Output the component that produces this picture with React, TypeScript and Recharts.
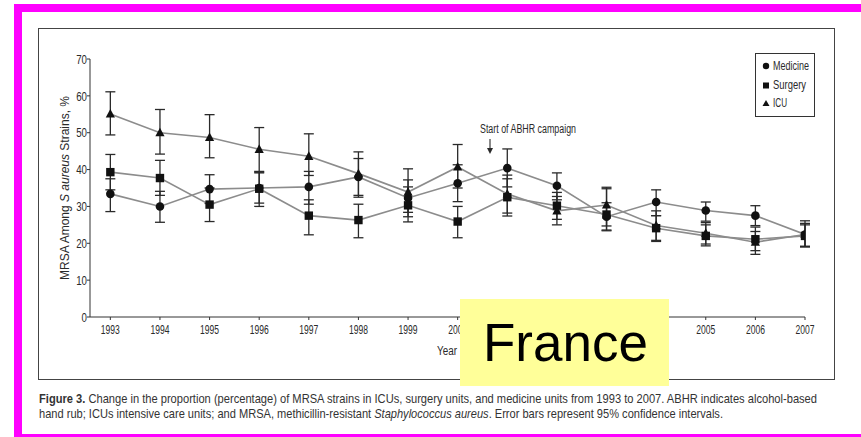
import React from 'react';
import { ComposedChart, Line, XAxis, YAxis, ErrorBar } from 'recharts';

// years on the x axis
const years = [1993, 1994, 1995, 1996, 1997, 1998, 1999, 2000, 2001, 2002, 2003, 2004, 2005, 2006, 2007];
const yTicks = [0, 10, 20, 30, 40, 50, 60, 70];

// MRSA %, with 95% CI bounds
const medicine = [33.4, 30.0, 34.7, 35.0, 35.3, 38.0, 32.3, 36.3, 40.4, 35.6, 27.2, 31.2, 28.9, 27.5, 22.4];
const medicineLow = [28.6, 25.7, 30.8, 30.9, 30.6, 32.5, 27.2, 31.3, 35.3, 31.8, 23.4, 27.5, 26.0, 24.8, 19.1];
const medicineHigh = [37.5, 34.1, 38.6, 39.1, 39.5, 43.0, 37.2, 41.3, 45.6, 39.1, 31.0, 34.5, 31.2, 30.2, 25.4];

const surgery = [39.3, 37.7, 30.5, 34.8, 27.5, 26.3, 30.3, 25.9, 32.5, 30.2, 27.8, 24.1, 22.0, 21.1, 22.0];
const surgeryLow = [34.5, 33.0, 25.9, 30.0, 22.3, 21.5, 25.8, 21.5, 27.4, 26.5, 23.6, 20.5, 19.3, 18.0, 19.0];
const surgeryHigh = [44.1, 42.5, 35.0, 39.3, 31.8, 30.6, 35.3, 30.0, 37.5, 33.8, 34.8, 27.5, 25.0, 24.4, 25.0];

const icu = [55.1, 50.0, 48.7, 45.5, 43.6, 38.9, 33.9, 40.7, 33.4, 28.8, 30.4, 24.8, 22.7, 20.3, 22.4];
const icuLow = [49.4, 44.2, 43.2, 39.5, 38.4, 33.0, 28.4, 35.0, 28.2, 25.0, 24.7, 20.8, 19.8, 17.0, 19.2];
const icuHigh = [61.1, 56.3, 54.9, 51.4, 49.7, 44.8, 40.2, 46.8, 38.5, 32.7, 35.2, 28.8, 25.6, 23.2, 26.1];

const data = years.map((year, i) => ({
  year,
  medicine: medicine[i],
  medicineErr: [medicine[i] - medicineLow[i], medicineHigh[i] - medicine[i]],
  surgery: surgery[i],
  surgeryErr: [surgery[i] - surgeryLow[i], surgeryHigh[i] - surgery[i]],
  icu: icu[i],
  icuErr: [icu[i] - icuLow[i], icuHigh[i] - icu[i]],
}));

// no narrow font installed, so text is squeezed with textLength
const FONT = "'Liberation Sans', Arial, sans-serif";
const INK = '#2a2a2a';
const LINE = '#8c8c8c';

const circleDot = (p: any) => <circle key={p.key} cx={p.cx} cy={p.cy} r={4.3} fill="#111" />;
const squareDot = (p: any) => <rect key={p.key} x={p.cx - 4.2} y={p.cy - 4.2} width={8.4} height={8.4} fill="#111" />;
const triDot = (p: any) => (
  <polygon key={p.key} points={`${p.cx},${p.cy - 5} ${p.cx - 4.6},${p.cy + 3.6} ${p.cx + 4.6},${p.cy + 3.6}`} fill="#111" />
);

const XTick = (p: any) => (
  <text x={p.x} y={p.y} dy="0.71em" textAnchor="middle" fontSize={13} fill={INK} fontFamily={FONT}
    textLength={19} lengthAdjust="spacingAndGlyphs">
    {p.payload.value}
  </text>
);

const YTick = (p: any) => {
  const s = String(p.payload.value);
  return (
    <text x={p.x} y={p.y} dy="0.36em" textAnchor="end" fontSize={13} fill={INK} fontFamily={FONT}
      textLength={s.length * 5.4} lengthAdjust="spacingAndGlyphs">
      {s}
    </text>
  );
};

const YLabel = () => (
  <text transform="translate(69,188) rotate(-90)" textAnchor="middle" fontSize={13} fill={INK} fontFamily={FONT}
    textLength={184} lengthAdjust="spacingAndGlyphs">
    MRSA Among <tspan fontStyle="italic">S aureus</tspan> Strains, %
  </text>
);

export default function App() {
  return (
    <div style={{ position: 'absolute', left: 0, top: 0, width: 861, height: 437, overflow: 'hidden', background: '#fff' }}>
      {/* magenta slide frame */}
      <div style={{ position: 'absolute', left: 14, top: 4, width: 900, height: 422, border: '8px solid #ff00ff', borderRight: 'none' }} />
      {/* figure frame */}
      <div style={{ position: 'absolute', left: 38, top: 28, width: 795, height: 350, border: '1px solid #444' }} />

      <div style={{ position: 'absolute', left: 0, top: 0 }}>
        <ComposedChart width={861} height={437} data={data} margin={{ top: 59, right: 56, left: 50, bottom: 90 }}>
          <XAxis
            dataKey="year"
            type="number"
            domain={[1992.59, 2007]}
            ticks={years}
            allowDataOverflow
            height={30}
            stroke="#333"
            tickSize={3}
            tick={<XTick />}
            tickMargin={5}
          />
          <YAxis
            domain={[0, 70]}
            ticks={yTicks}
            width={40}
            stroke="#333"
            tickSize={3}
            tick={<YTick />}
            tickMargin={0}
            label={<YLabel />}
          />
          <Line dataKey="medicine" stroke={LINE} strokeWidth={1.6} dot={circleDot} isAnimationActive={false}>
            <ErrorBar dataKey="medicineErr" width={5} stroke={INK} strokeWidth={1.3} isAnimationActive={false} />
          </Line>
          <Line dataKey="surgery" stroke={LINE} strokeWidth={1.6} dot={squareDot} isAnimationActive={false}>
            <ErrorBar dataKey="surgeryErr" width={5} stroke={INK} strokeWidth={1.3} isAnimationActive={false} />
          </Line>
          <Line dataKey="icu" stroke={LINE} strokeWidth={1.6} dot={triDot} isAnimationActive={false}>
            <ErrorBar dataKey="icuErr" width={5} stroke={INK} strokeWidth={1.3} isAnimationActive={false} />
          </Line>
        </ComposedChart>
      </div>

      <svg width={861} height={437} style={{ position: 'absolute', left: 0, top: 0, pointerEvents: 'none' }}>
        {/* annotation */}
        <text x={480} y={133} fontSize={12} fill={INK} fontFamily={FONT} textLength={96} lengthAdjust="spacingAndGlyphs">Start of ABHR campaign</text>
        <line x1={490} y1={139} x2={490} y2={152} stroke={INK} strokeWidth={1.1} />
        <polygon points="487,148 493,148 490,154" fill={INK} />
        <text x={437} y={355} fontSize={12} fill={INK} fontFamily={FONT} textLength={20} lengthAdjust="spacingAndGlyphs">Year</text>

        {/* legend */}
        <rect x={755.5} y={53.5} width={59} height={63} fill="#fff" stroke="#333" />
        <circle cx={766} cy={66} r={3.2} fill="#111" />
        <rect x={763} y={82.5} width={6} height={6} fill="#111" />
        <polygon points="766,100 762.5,106 769.5,106" fill="#111" />
        <text x={773} y={70} fontSize={12} fill={INK} fontFamily={FONT} textLength={36} lengthAdjust="spacingAndGlyphs">Medicine</text>
        <text x={773} y={89} fontSize={12} fill={INK} fontFamily={FONT} textLength={33} lengthAdjust="spacingAndGlyphs">Surgery</text>
        <text x={773} y={107} fontSize={12} fill={INK} fontFamily={FONT} textLength={14} lengthAdjust="spacingAndGlyphs">ICU</text>

        {/* caption */}
        <text x={39} y={403} fontSize={13} fill="#333" fontFamily={FONT} textLength={778} lengthAdjust="spacingAndGlyphs">
          <tspan fontWeight="bold">Figure 3.</tspan> Change in the proportion (percentage) of MRSA strains in ICUs, surgery units, and medicine units from 1993 to 2007. ABHR indicates alcohol-based
        </text>
        <text x={39} y={418} fontSize={13} fill="#333" fontFamily={FONT} textLength={684} lengthAdjust="spacingAndGlyphs">
          hand rub; ICUs intensive care units; and MRSA, methicillin-resistant <tspan fontStyle="italic">Staphylococcus aureus</tspan>. Error bars represent 95% confidence intervals.
        </text>
      </svg>

      {/* overlay label */}
      <div style={{ position: 'absolute', left: 460, top: 299, width: 209, height: 87, background: '#ffff99', fontFamily: FONT, fontSize: 53, color: '#000', lineHeight: '87px', paddingLeft: 23, boxSizing: 'border-box' }}>
        France
      </div>
    </div>
  );
}
